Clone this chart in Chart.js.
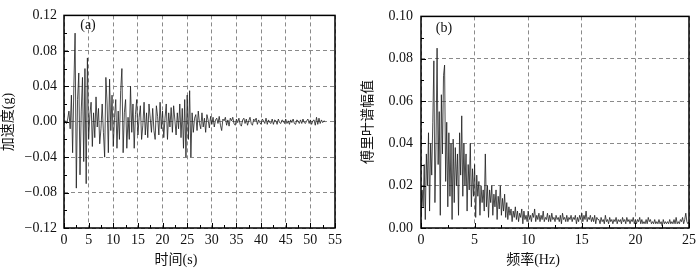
<!DOCTYPE html>
<html>
<head>
<meta charset="utf-8">
<script src="https://cdn.jsdelivr.net/npm/chart.js@4/dist/chart.umd.min.js"></script>
<style>
  body { margin: 0; background: #fff; }
  .panel { position: absolute; top: 0; width: 350px; height: 272px; }
</style>
</head>
<body>
<div class="panel" style="left:0"><canvas id="chartA" width="350" height="272"></canvas></div>
<div class="panel" style="left:350px"><canvas id="chartB" width="350" height="272"></canvas></div>
<script>
// (a) acceleration record, sampled every 0.25 s from 0 s
const accStep = 0.25;
const accel = [
  0, 0.001, -0.002, 0.003,
  0.012, -0.008, 0.03, -0.035,
  0.04, 0.1, -0.075, 0.025,
  0.055, -0.06, 0.012, 0.05,
  -0.045, 0.06, -0.07, 0.072,
  -0.02, 0.008, 0.022, -0.028,
  0.01, -0.018, 0.028, -0.006,
  0.015, -0.025, -0.008, 0.02,
  -0.012, -0.04, 0.05, 0.02,
  -0.035, 0.048, -0.01, 0.03,
  -0.028, 0.005, 0.025, -0.03,
  0.012, -0.02, 0.035, 0.06,
  -0.035, 0.01, 0.025, -0.03,
  0.005, -0.02, 0.04, -0.012,
  0.02, -0.03, 0.008, 0.025,
  -0.015, 0.005, 0.018, -0.02,
  -0.004, 0.022, -0.015, 0.01,
  -0.018, 0.02, 0.004, -0.012,
  0.015, -0.01, -0.02, 0.018,
  0.006, -0.015, 0.022, -0.008,
  0.012, -0.018, 0.004, 0.02,
  -0.02, 0.01, -0.006, 0.016,
  -0.012, 0.018, 0.002, -0.015,
  0.01, -0.008, 0.02, -0.018,
  0.015, -0.03, 0.025, -0.04,
  0.03, -0.02, 0.035, -0.04,
  0.01, -0.012, 0.004, 0.008,
  -0.01, 0.012, -0.002, -0.008,
  0.01, -0.006, 0.004, -0.012,
  0.008, 0.002, -0.007, 0.006,
  -0.003, 0.005, -0.006, 0.002,
  0.004, -0.002, 0.006, -0.004,
  -0.01, 0.003, 0.001, 0.005,
  -0.004, 0.002, -0.005, 0.004,
  0.001, 0.005, -0.002, -0.004,
  0.003, -0.001, 0.004, -0.003,
  -0.005, 0.002, 0.004, -0.002,
  0.003, -0.004, 0.001, 0.005,
  -0.002, -0.004, 0.003, 0.001,
  0.004, -0.003, 0.002, -0.001,
  -0.003, 0.003, 0.001, -0.002,
  0.004, -0.003, 0.002, -0.001,
  -0.002, 0.003, -0.003, 0.002,
  0.001, -0.003, 0.003, -0.001,
  -0.002, 0.002, 0.001, -0.002,
  0.003, -0.002, 0.001, -0.003,
  0.002, -0.001, 0.003, -0.002,
  -0.003, 0.002, 0.001, -0.002,
  0.002, -0.002, 0.003, -0.001,
  -0.002, 0.001, 0.003, -0.002,
  0.002, -0.003, 0.001, 0.002,
  -0.004, 0.005, -0.003, 0.004,
  -0.002, 0.002, -0.001, 0.001,
  0
];

// (b) Fourier amplitude, every 0.1 Hz from 0 Hz
const freqStep = 0.1;
const fourier = [
  0.005, 0.018, 0.01, 0.03, 0.004, 0.035, 0.02, 0.045, 0.008, 0.04,
  0.025, 0.05, 0.079, 0.012, 0.04, 0.085, 0.03, 0.055, 0.006, 0.063,
  0.035, 0.072, 0.077, 0.022, 0.05, 0.01, 0.045, 0.015, 0.04, 0.004,
  0.042, 0.012, 0.038, 0.02, 0.035, 0.006, 0.045, 0.025, 0.053, 0.015,
  0.04, 0.02, 0.035, 0.008, 0.03, 0.018, 0.04, 0.01, 0.028, 0.015,
  0.03, 0.005, 0.025, 0.015, 0.022, 0.006, 0.02, 0.012, 0.018, 0.008,
  0.035, 0.01, 0.02, 0.005, 0.018, 0.012, 0.02, 0.006, 0.016, 0.01,
  0.018, 0.004, 0.015, 0.009, 0.02, 0.006, 0.014, 0.008, 0.016, 0.005,
  0.012, 0.004, 0.01, 0.006, 0.009, 0.003, 0.008, 0.005, 0.01, 0.004,
  0.008, 0.003, 0.007, 0.005, 0.009, 0.002, 0.008, 0.004, 0.006, 0.003,
  0.008, 0.004, 0.006, 0.003, 0.007, 0.005, 0.009, 0.003, 0.006, 0.004,
  0.007, 0.003, 0.006, 0.004, 0.008, 0.003, 0.005, 0.004, 0.007, 0.003,
  0.006, 0.003, 0.007, 0.004, 0.005, 0.003, 0.006, 0.004, 0.005, 0.003,
  0.006, 0.002, 0.007, 0.004, 0.005, 0.003, 0.006, 0.003, 0.005, 0.004,
  0.006, 0.003, 0.005, 0.004, 0.006, 0.002, 0.005, 0.003, 0.006, 0.004,
  0.007, 0.003, 0.006, 0.004, 0.008, 0.003, 0.005, 0.004, 0.006, 0.003,
  0.005, 0.003, 0.006, 0.002, 0.005, 0.004, 0.004, 0.002, 0.005, 0.003,
  0.004, 0.002, 0.006, 0.003, 0.004, 0.002, 0.005, 0.003, 0.004, 0.002,
  0.004, 0.003, 0.005, 0.002, 0.004, 0.003, 0.004, 0.002, 0.005, 0.003,
  0.004, 0.002, 0.005, 0.003, 0.004, 0.002, 0.004, 0.003, 0.005, 0.002,
  0.004, 0.002, 0.004, 0.003, 0.005, 0.002, 0.004, 0.002, 0.003, 0.002,
  0.004, 0.002, 0.005, 0.003, 0.004, 0.002, 0.003, 0.002, 0.004, 0.002,
  0.003, 0.002, 0.004, 0.002, 0.003, 0.001, 0.004, 0.002, 0.003, 0.002,
  0.003, 0.002, 0.004, 0.002, 0.003, 0.002, 0.004, 0.002, 0.005, 0.002,
  0.003, 0.002, 0.004, 0.003, 0.005, 0.002, 0.004, 0.007, 0.003, 0.002,
  0.003
];

const serif = '"Liberation Serif", "Noto Sans CJK SC", serif';

// frame, inward ticks and the hand placed titles
const decor = {
    id: 'decor',
    afterDraw(chart, args, o) {
        const ctx = chart.ctx;
        const a = chart.chartArea;
        const x = chart.scales.x;
        const y = chart.scales.y;
        ctx.save();
        ctx.strokeStyle = '#000';
        ctx.lineWidth = 1;
        ctx.beginPath();
        for (let i = 0; x.min + i * o.xMinor <= x.max + 1e-9; i++) {
            const px = Math.round(x.getPixelForValue(x.min + i * o.xMinor)) + 0.5;
            const len = i % 2 === 0 ? 5 : 3;
            ctx.moveTo(px, a.bottom);
            ctx.lineTo(px, a.bottom - len);
        }
        for (let i = 0; y.min + i * o.yMinor <= y.max + 1e-9; i++) {
            const py = Math.round(y.getPixelForValue(y.min + i * o.yMinor)) + 0.5;
            const len = i % 2 === 0 ? 5 : 3;
            ctx.moveTo(a.left, py);
            ctx.lineTo(a.left + len, py);
        }
        ctx.stroke();
        ctx.lineWidth = 1.5;
        ctx.strokeRect(a.left, a.top, a.right - a.left, a.bottom - a.top);

        ctx.fillStyle = '#111';
        ctx.textAlign = 'center';
        ctx.textBaseline = 'middle';
        ctx.font = '14px ' + serif;
        ctx.fillText(o.tag, o.tagX, o.tagY);
        ctx.fillText(o.xTitle, o.xTitleX, 260);
        ctx.translate(o.yTitleX, 122);
        ctx.rotate(-Math.PI / 2);
        ctx.fillText(o.yTitle, 0, 0);
        ctx.restore();
    }
};

function makeChart(id, values, step, cfg) {
    const points = values.map((v, i) => ({ x: +(i * step).toFixed(2), y: v }));
    return new Chart(document.getElementById(id), {
        type: 'line',
        data: {
            datasets: [{
                data: points,
                borderColor: '#1e1e1e',
                borderWidth: 0.8,
                pointRadius: 0,
                tension: 0
            }]
        },
        options: {
            responsive: false,
            animation: false,
            events: [],
            layout: { padding: cfg.padding },
            plugins: {
                legend: { display: false },
                tooltip: { enabled: false },
                decor: cfg.decor
            },
            scales: {
                x: {
                    type: 'linear',
                    min: 0,
                    max: cfg.xMax,
                    afterFit: (s) => { s.height = 44; },
                    ticks: {
                        stepSize: cfg.xStep,
                        padding: 4,
                        maxRotation: 0,
                        color: '#111',
                        font: { family: serif, size: 14 }
                    },
                    grid: { color: '#8a8a8a', lineWidth: 1, drawTicks: false },
                    border: { display: false, dash: [4, 3] }
                },
                y: {
                    min: cfg.yMin,
                    max: cfg.yMax,
                    afterFit: (s) => { s.width = cfg.yWidth; },
                    ticks: {
                        stepSize: cfg.yStep,
                        padding: cfg.yPad,
                        color: '#111',
                        font: { family: serif, size: 14 },
                        callback: (v) => (v < -1e-9 ? '\u2212' + Math.abs(v).toFixed(2) : Math.abs(v).toFixed(2))
                    },
                    grid: { color: '#8a8a8a', lineWidth: 1, drawTicks: false },
                    border: { display: false, dash: [4, 3] }
                }
            }
        },
        plugins: [decor]
    });
}

makeChart('chartA', accel, accStep, {
    padding: { left: 0, right: 15, top: 10, bottom: 0 },
    xMax: 55, xStep: 5,
    yMin: -0.12, yMax: 0.12, yStep: 0.04,
    yWidth: 64, yPad: 7,
    decor: {
        xMinor: 2.5, yMinor: 0.02,
        tag: '(a)', tagX: 88, tagY: 25,
        xTitle: '时间(s)', xTitleX: 176,
        yTitle: '加速度(g)', yTitleX: 8
    }
});

makeChart('chartB', fourier, freqStep, {
    padding: { left: 0, right: 9, top: 12, bottom: 0 },
    xMax: 25, xStep: 5,
    yMin: 0, yMax: 0.1, yStep: 0.02,
    yWidth: 71, yPad: 8,
    decor: {
        xMinor: 2.5, yMinor: 0.01,
        tag: '(b)', tagX: 94, tagY: 28,
        xTitle: '频率(Hz)', xTitleX: 183,
        yTitle: '傅里叶谱幅值', yTitleX: 18
    }
});
</script>
</body>
</html>
